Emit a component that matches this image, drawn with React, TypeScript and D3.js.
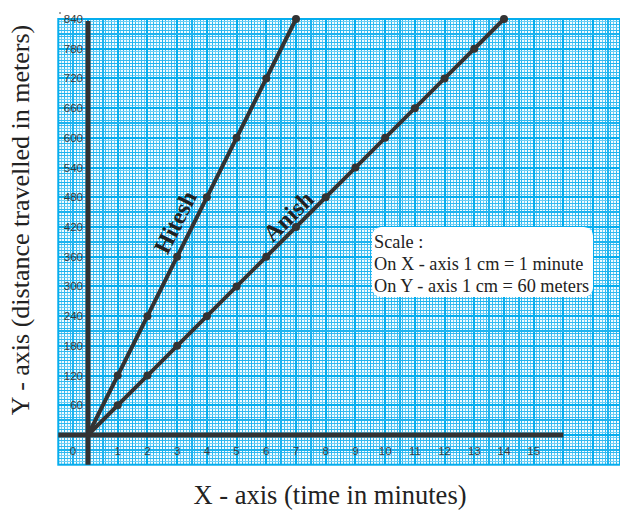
import React from "react";
import * as d3 from "d3";

const minutesHitesh = [0, 1, 2, 3, 4, 5, 6, 7];
const metersHitesh = [0, 120, 240, 360, 480, 600, 720, 840];
const minutesAnish = [0, 1, 2, 3, 4, 5, 6, 7, 8, 9, 10, 11, 12, 13, 14];
const metersAnish = [0, 60, 120, 180, 240, 300, 360, 420, 480, 540, 600, 660, 720, 780, 840];
const xTickLabels = [0, 1, 2, 3, 4, 5, 6, 7, 8, 9, 10, 11, 12, 13, 14, 15];
const yTickLabels = [60, 120, 180, 240, 300, 360, 420, 480, 540, 600, 660, 720, 780, 840];
const scaleLines = ["Scale :", "On X - axis 1 cm = 1 minute", "On Y - axis 1 cm = 60 meters"];

const SERIF = "'Liberation Serif', 'Times New Roman', serif";
const SANS = "'Liberation Sans', Arial, sans-serif";

export default function App() {
  const W = 620, H = 514;
  const x = d3.scaleLinear().domain([0, 14]).range([88, 504]);
  const y = d3.scaleLinear().domain([0, 840]).range([435, 19]);
  const xMin = -1, xMax = 18.2, yMin = -60, yMax = 840;
  const left = x(xMin), right = W, top = y(yMax), bottom = y(yMin);

  const minorX: number[] = [];
  for (let i = Math.round(xMin * 10); i <= Math.round(xMax * 10); i++) minorX.push(i);
  const minorY: number[] = [];
  for (let i = Math.round(yMin / 6); i <= Math.round(yMax / 6); i++) minorY.push(i);

  const lineGen = d3.line<[number, number]>().x(d => x(d[0])).y(d => y(d[1]));
  const hitesh = minutesHitesh.map((m, i) => [m, metersHitesh[i]] as [number, number]);
  const anish = minutesAnish.map((m, i) => [m, metersAnish[i]] as [number, number]);

  const style = (i: number) => {
    if (i % 10 === 0) return { stroke: "#05adee", w: 2 };
    if (i % 5 === 0) return { stroke: "#1cb3ef", w: 1.5 };
    return { stroke: i % 2 ? "#6ccef5" : "#30b9f0", w: 1 };
  };

  const angH = (Math.atan2(y(840) - y(0), x(7) - x(0)) * 180) / Math.PI;
  const angA = (Math.atan2(y(840) - y(0), x(14) - x(0)) * 180) / Math.PI;

  return (
    <svg width={W} height={H} style={{ position: "absolute", left: 0, top: 0 }}>
      <rect x={0} y={0} width={W} height={H} fill="#fff" />
      <defs>
        <clipPath id="paper">
          <rect x={left} y={top} width={right - left} height={bottom - top} />
        </clipPath>
      </defs>
      <g clipPath="url(#paper)" shapeRendering="crispEdges">
        <rect x={left} y={top} width={right - left} height={bottom - top} fill="#f2fbff" />
        {minorX.filter(i => i % 5 !== 0).map(i => {
          const s = style(i);
          return <line key={"vx" + i} x1={x(i / 10)} x2={x(i / 10)} y1={top} y2={bottom} stroke={s.stroke} strokeWidth={s.w} />;
        })}
        {minorY.filter(i => i % 5 !== 0).map(i => {
          const s = style(i);
          return <line key={"hy" + i} y1={y(i * 6)} y2={y(i * 6)} x1={left} x2={right} stroke={s.stroke} strokeWidth={s.w} />;
        })}
        {minorX.filter(i => i % 5 === 0).map(i => {
          const s = style(i);
          return <line key={"Vx" + i} x1={x(i / 10)} x2={x(i / 10)} y1={top} y2={bottom} stroke={s.stroke} strokeWidth={s.w} />;
        })}
        {minorY.filter(i => i % 5 === 0).map(i => {
          const s = style(i);
          return <line key={"Hy" + i} y1={y(i * 6)} y2={y(i * 6)} x1={left} x2={right} stroke={s.stroke} strokeWidth={s.w} />;
        })}
      </g>
      <rect x={left} y={top} width={right - left} height={bottom - top} fill="none" stroke="#05adee" strokeWidth={2} />

      {/* axes */}
      <line x1={x(0)} x2={x(0)} y1={y(840) + 2} y2={bottom} stroke="#333" strokeWidth={5} />
      <line x1={left} x2={x(16)} y1={y(0)} y2={y(0)} stroke="#333" strokeWidth={5} />

      {/* tick labels */}
      {yTickLabels.map(v => (
        <text key={"yl" + v} x={83} y={y(v)} dy="0.35em" textAnchor="end" fontFamily={SANS} fontSize={11.5} fill="#3a3a3a">
          {v}
        </text>
      ))}
      {xTickLabels.map(v => (
        <text key={"xl" + v} x={v === 0 ? 73 : x(v)} y={451} dy="0.35em" textAnchor="middle" fontFamily={SANS} fontSize={11.5} fill="#3a3a3a">
          {v}
        </text>
      ))}

      {/* data lines */}
      <path d={lineGen(hitesh) || ""} fill="none" stroke="#333" strokeWidth={4} />
      <path d={lineGen(anish) || ""} fill="none" stroke="#333" strokeWidth={4} />
      {hitesh.slice(1).map((d, i) => (
        <circle key={"hp" + i} cx={x(d[0])} cy={y(d[1])} r={4} fill="#333" />
      ))}
      {anish.slice(1).map((d, i) => (
        <circle key={"ap" + i} cx={x(d[0])} cy={y(d[1])} r={4} fill="#333" />
      ))}

      {/* line labels */}
      <text transform={`translate(175,222) rotate(${angH})`} textAnchor="middle" dy="0.35em" fontFamily={SERIF} fontWeight="bold" fontSize={24} fill="#222">
        Hitesh
      </text>
      <text transform={`translate(288,216) rotate(${angA})`} textAnchor="middle" dy="0.35em" fontFamily={SERIF} fontWeight="bold" fontSize={24} fill="#222">
        Anish
      </text>

      {/* scale box */}
      <rect x={372} y={227} width={221} height={70} rx={9} fill="#fff" />
      {scaleLines.map((t, i) => (
        <text key={"s" + i} x={374} y={248 + i * 22} fontFamily={SERIF} fontSize={18.3} fill="#222">
          {t}
        </text>
      ))}

      {/* axis titles */}
      <text transform={`translate(29,220) rotate(-90)`} textAnchor="middle" fontFamily={SERIF} fontSize={26} fill="#222">
        Y - axis (distance travelled in meters)
      </text>
      <text x={330} y={504} textAnchor="middle" fontFamily={SERIF} fontSize={26.5} fill="#222">
        X - axis (time in minutes)
      </text>
      <circle cx={60} cy={13} r={0.8} fill="#333" />
    </svg>
  );
}
